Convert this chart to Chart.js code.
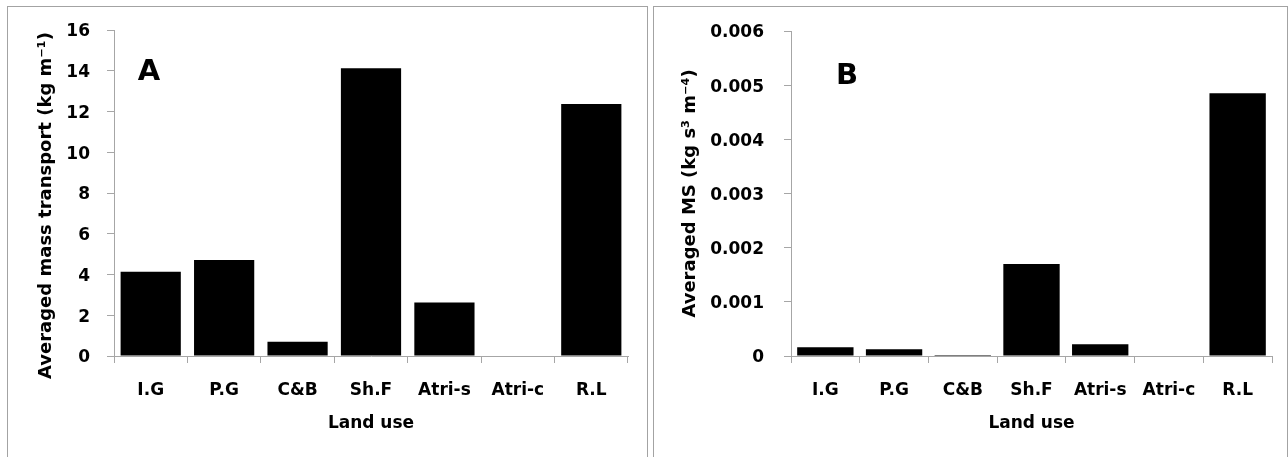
<!DOCTYPE html>
<html>
<head>
<meta charset="utf-8">
<script src="https://cdn.jsdelivr.net/npm/chart.js@4.4.0/dist/chart.umd.min.js"></script>
<style>
  body { margin: 0; background: #fff; width: 1288px; height: 457px; overflow: hidden; position: relative; }
  .frame { position: absolute; border: 1px solid #a3a3a3; box-sizing: border-box; }
  #frameA { left: 7px; top: 6px; width: 641px; height: 470px; }
  #frameB { left: 653px; top: 6px; width: 635px; height: 470px; }
  .wrap { position: absolute; top: 0; height: 457px; }
  #wrapA { left: 0; width: 648px; }
  #wrapB { left: 648px; width: 640px; }
</style>
</head>
<body>
<div class="frame" id="frameA"></div>
<div class="frame" id="frameB"></div>
<div class="wrap" id="wrapA"><canvas id="chartA"></canvas></div>
<div class="wrap" id="wrapB"><canvas id="chartB"></canvas></div>
<script>
// data
const landUse = ['I.G', 'P.G', 'C&B', 'Sh.F', 'Atri-s', 'Atri-c', 'R.L'];
const massTransport = [4.14, 4.71, 0.70, 14.12, 2.63, 0, 12.37];   // kg m-1
const msValues = [0.00016, 0.000125, 0.00002, 0.0017, 0.000215, 0, 0.00485]; // kg s3 m-4
const ticksA = [0, 2, 4, 6, 8, 10, 12, 14, 16];
const ticksB = [0, 0.001, 0.002, 0.003, 0.004, 0.005, 0.006];

const FONT = 'DejaVu Sans';
const axisGray = '#a6a6a6';

// big "A" / "B" panel letter, placed relative to the plot area
const panelLetter = {
    id: 'panelLetter',
    afterDraw(chart, args, opts) {
        const { ctx, chartArea } = chart;
        ctx.save();
        ctx.font = 'bold 29px ' + FONT;
        ctx.fillStyle = '#000';
        ctx.textAlign = 'center';
        ctx.textBaseline = 'middle';
        ctx.fillText(opts.text, chartArea.left + opts.dx, chartArea.top + opts.dy);
        ctx.restore();
    }
};

function makeChart(id, values, ticks, opt) {
    const font = { family: FONT, weight: 'bold', size: 17 };
    return new Chart(document.getElementById(id), {
        type: 'bar',
        data: {
            labels: landUse,
            datasets: [{
                data: values,
                backgroundColor: '#000',
                borderWidth: 0,
                barPercentage: 0.82,
                categoryPercentage: 1
            }]
        },
        options: {
            responsive: true,
            maintainAspectRatio: false,
            animation: false,
            layout: { padding: { top: opt.top, right: opt.right, left: 0, bottom: 0 } },
            plugins: {
                legend: { display: false },
                tooltip: { enabled: false },
                panelLetter: opt.letter
            },
            scales: {
                x: {
                    grid: { drawOnChartArea: false, color: axisGray, tickLength: 7, offset: true },
                    border: { color: axisGray, width: 1 },
                    ticks: { color: '#000', font, padding: 17, maxRotation: 0, autoSkip: false },
                    title: { display: true, text: 'Land use', color: '#000', font, padding: { top: 0, bottom: 23 } },
                    afterFit: s => { s.height = 101; }
                },
                y: {
                    min: ticks[0],
                    max: ticks[ticks.length - 1],
                    afterBuildTicks: s => { s.ticks = ticks.map(v => ({ value: v })); },
                    grid: { drawOnChartArea: false, color: axisGray, tickLength: 7 },
                    border: { color: axisGray, width: 1 },
                    ticks: { color: '#000', font, padding: opt.tickPad, labelOffset: 2, callback: opt.fmt },
                    title: {
                        display: true, text: opt.yTitle, color: '#000',
                        font: { family: FONT, weight: 'bold', size: 18 },
                        padding: { top: opt.titlePad, bottom: 0 }
                    },
                    afterFit: s => { s.width = opt.yWidth; }
                }
            }
        },
        plugins: [panelLetter]
    });
}

makeChart('chartA', massTransport, ticksA, {
    top: 30, right: 20, yWidth: 114, tickPad: 17, titlePad: 36,
    yTitle: 'Averaged mass transport (kg m\u207B\u00B9)    ',
    fmt: v => String(v),
    letter: { text: 'A', dx: 35, dy: 42.5 }
});

makeChart('chartB', msValues, ticksB, {
    top: 31, right: 16, yWidth: 143, tickPad: 20, titlePad: 32,
    yTitle: 'Averaged MS (kg s\u00B3 m\u207B\u2074)',
    fmt: v => v === 0 ? '0' : v.toFixed(3),
    letter: { text: 'B', dx: 56, dy: 45 }
});
</script>
</body>
</html>
